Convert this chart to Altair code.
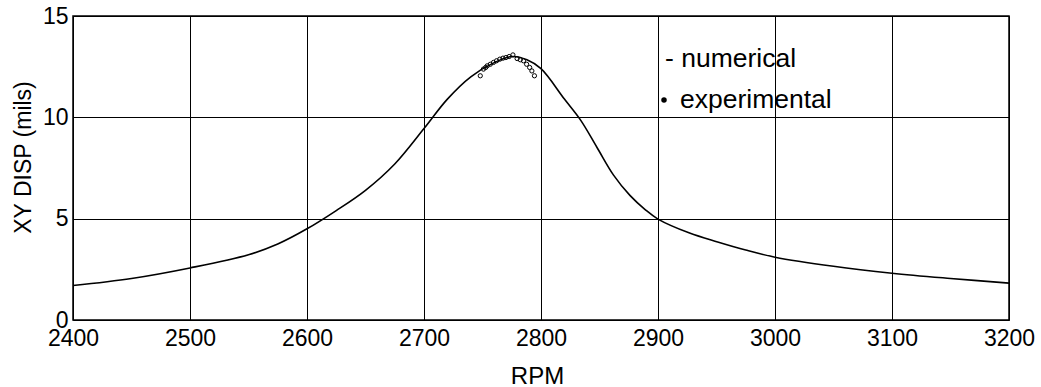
import altair as alt
import pandas as pd

# numerical response curve
num_rpm = [2400, 2450, 2500, 2550, 2575, 2600, 2625, 2650, 2675, 2700, 2720,
           2740, 2760, 2775, 2788, 2800, 2820, 2834, 2848, 2862, 2876, 2889,
           2900, 2927, 2951, 2975, 3000, 3050, 3100, 3150, 3200]
num_disp = [1.70, 2.05, 2.57, 3.22, 3.75, 4.50, 5.40, 6.40, 7.70, 9.45, 10.9,
            12.0, 12.7, 13.0, 12.84, 12.4, 10.9, 9.85, 8.5, 7.15, 6.15, 5.45,
            4.98, 4.29, 3.85, 3.45, 3.10, 2.65, 2.31, 2.05, 1.82]

# experimental points
exp_rpm = [2748.1, 2750.8, 2752.7, 2754.0, 2756.7, 2759.4, 2762.0, 2764.8, 2767.5,
           2770.0, 2772.8, 2776.0, 2779.6, 2782.3, 2785.0, 2787.7, 2790.3, 2792.2, 2794.4]
exp_disp = [12.05, 12.38, 12.46, 12.54, 12.62, 12.71, 12.79, 12.87, 12.92,
            12.95, 13.00, 13.08, 12.90, 12.84, 12.79, 12.62, 12.46, 12.29, 12.05]

x_ticks = [2400, 2500, 2600, 2700, 2800, 2900, 3000, 3100, 3200]
y_ticks = [0, 5, 10, 15]
legend_labels = ["- numerical", "experimental"]

FONT = "Liberation Sans"

num_df = pd.DataFrame({"rpm": num_rpm, "disp": num_disp})
exp_df = pd.DataFrame({"rpm": exp_rpm, "disp": exp_disp})

xenc = alt.X("rpm:Q", title="RPM",
             scale=alt.Scale(domain=[2400, 3200], nice=False, zero=False),
             axis=alt.Axis(values=x_ticks, format="d", ticks=False, domain=False,
                           grid=True, gridColor="black", gridOpacity=1, gridWidth=1,
                           labelFontSize=23, labelFont=FONT, labelColor="black",
                           labelPadding=25, labelBaseline="alphabetic",
                           labelFlush=False, labelOverlap=False,
                           titleFontSize=24, titleFont=FONT, titleColor="black",
                           titleFontWeight="normal", titleX=464, titleY=63,
                           titleBaseline="alphabetic"))
yenc = alt.Y("disp:Q", title="XY DISP (mils)",
             scale=alt.Scale(domain=[0, 15], nice=False),
             axis=alt.Axis(values=y_ticks, ticks=False, domain=False,
                           grid=True, gridColor="black", gridOpacity=1, gridWidth=1,
                           labelFontSize=23, labelFont=FONT, labelColor="black",
                           labelPadding=5, labelBaseline="middle",
                           labelFlush=False, labelOverlap=False,
                           titleFontSize=23, titleFont=FONT, titleColor="black",
                           titleFontWeight="normal", titleX=-43, titleY=141,
                           titleBaseline="alphabetic", titleAngle=270,
                           titleAlign="center"))

line = alt.Chart(num_df).mark_line(color="black", strokeWidth=1.6,
                                   interpolate="catmull-rom").encode(x=xenc, y=yenc)

pts = alt.Chart(exp_df).mark_point(shape="circle", filled=False, color="black",
                                   opacity=1, size=18, strokeWidth=1).encode(
    x=alt.X("rpm:Q"), y=alt.Y("disp:Q"))

leg1 = alt.Chart(pd.DataFrame({"t": [legend_labels[0]]})).mark_text(
    align="left", baseline="alphabetic", fontSize=26.5, font=FONT, color="black"
).encode(x=alt.value(592), y=alt.value(51), text="t:N")

leg2 = alt.Chart(pd.DataFrame({"t": [legend_labels[1]]})).mark_text(
    align="left", baseline="alphabetic", fontSize=26.5, font=FONT, color="black"
).encode(x=alt.value(607), y=alt.value(92), text="t:N")

leg_dot = alt.Chart(pd.DataFrame({"t": [legend_labels[1]]})).mark_point(
    shape="circle", filled=True, color="black", opacity=1, size=30
).encode(x=alt.value(591), y=alt.value(84))

chart = alt.layer(line, pts, leg1, leg2, leg_dot).properties(
    width=936, height=304,
    autosize=alt.AutoSizeParams(type="none"),
    padding={"left": 73, "top": 16, "right": 32, "bottom": 67},
    background="white",
).configure_view(stroke="black", strokeWidth=1.5)

chart.save("out.html", embed_options={"renderer": "svg", "actions": False})
